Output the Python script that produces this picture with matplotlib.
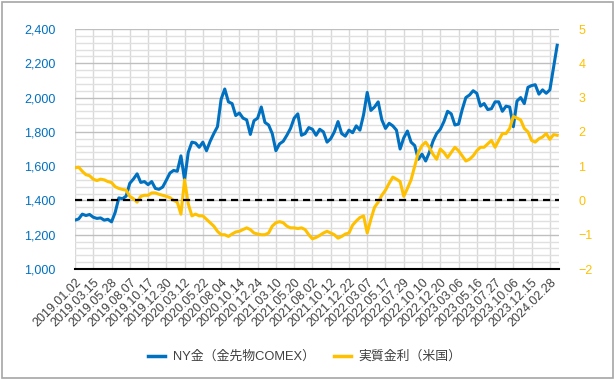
import matplotlib.pyplot as plt
import matplotlib.ticker as mticker
from matplotlib.patches import Rectangle
from matplotlib.lines import Line2D
import numpy as np

# categories: trading days 2019.01.02 - 2024.04, sampled every 10 days
n_days = 1325
step = 10

tick_labels = ['2019.01.02', '2019.03.15', '2019.05.28', '2019.08.07', '2019.10.17',
               '2019.12.30', '2020.03.12', '2020.05.22', '2020.08.04', '2020.10.14',
               '2020.12.24', '2021.03.10', '2021.05.20', '2021.08.02', '2021.10.12',
               '2021.12.22', '2022.03.07', '2022.05.17', '2022.07.29', '2022.10.10',
               '2022.12.20', '2023.03.06', '2023.05.16', '2023.07.27', '2023.10.06',
               '2023.12.15', '2024.02.28']
tick_every = 50

# NY gold (COMEX futures), USD/oz
gold = [1285, 1292, 1320, 1312, 1318, 1302, 1295, 1298, 1285, 1290,
        1275, 1330, 1415, 1410, 1425, 1500, 1525, 1555, 1505, 1510,
        1492, 1510, 1470, 1465, 1478, 1518, 1560, 1575, 1570, 1660,
        1520, 1680, 1740, 1735, 1710, 1740, 1690, 1745, 1790, 1830,
        1990, 2050, 1975, 1965, 1895, 1910, 1880, 1870, 1785, 1865,
        1880, 1945, 1855, 1840, 1790, 1690, 1730, 1745, 1780, 1820,
        1880, 1905, 1780, 1790, 1825, 1815, 1780, 1815, 1800, 1740,
        1760, 1800, 1860, 1790, 1775, 1810, 1795, 1835, 1810, 1900,
        2030, 1925, 1945, 1975, 1870, 1820, 1850, 1835, 1810, 1700,
        1765, 1805, 1740, 1720, 1640, 1670, 1630, 1680, 1745, 1790,
        1815, 1860, 1920, 1905, 1840, 1845, 1930, 2000, 2015, 2040,
        2025, 1950, 1965, 1930, 1935, 1975, 1975, 1920, 1950, 1945,
        1830, 1980, 2000, 1965, 2060, 2070, 2075, 2020, 2045, 2025,
        2045, 2175, 2305]

# US real interest rate, %
real_rate = [0.95, 0.97, 0.85, 0.75, 0.72, 0.62, 0.58, 0.62, 0.60, 0.55,
             0.52, 0.40, 0.35, 0.32, 0.30, 0.12, 0.05, -0.05, 0.12, 0.15,
             0.15, 0.22, 0.22, 0.18, 0.15, 0.12, 0.08, 0.00, -0.05, -0.40,
             0.60, -0.10, -0.45, -0.40, -0.45, -0.45, -0.55, -0.65, -0.75, -0.90,
             -1.00, -1.00, -1.05, -0.98, -0.92, -0.90, -0.85, -0.80, -0.85, -0.95,
             -0.98, -1.00, -1.00, -0.95, -0.75, -0.65, -0.62, -0.65, -0.75, -0.80,
             -0.80, -0.82, -0.80, -0.85, -1.00, -1.12, -1.08, -1.02, -0.95, -0.90,
             -0.95, -1.00, -1.10, -1.05, -0.98, -0.95, -0.72, -0.60, -0.50, -0.45,
             -0.95, -0.55, -0.20, -0.05, 0.15, 0.30, 0.50, 0.68, 0.62, 0.55,
             0.12, 0.35, 0.60, 1.00, 1.40, 1.60, 1.70, 1.55, 1.35, 1.20,
             1.50, 1.40, 1.25, 1.40, 1.55, 1.45, 1.30, 1.15, 1.20, 1.30,
             1.45, 1.55, 1.55, 1.65, 1.75, 1.55, 1.75, 1.95, 1.95, 2.10,
             2.45, 2.40, 2.35, 2.10, 2.00, 1.75, 1.70, 1.80, 1.85, 1.95,
             1.78, 1.92, 1.90]

blue = '#0070C0'
gold_c = '#FFC000'
text_c = '#404040'
font = ['Liberation Sans', 'Noto Sans CJK JP', 'DejaVu Sans']
plt.rcParams['font.family'] = font

fig = plt.figure(figsize=(6.15, 3.8), dpi=100)
ax = fig.add_axes([75 / 615, 111 / 380, 484 / 615, 240 / 380])
ax2 = ax.twinx()

x = np.arange(len(gold)) * step

ax.plot(x, gold, color=blue, lw=2.2, solid_joinstyle='round', zorder=3)
ax2.plot(x, real_rate, color=gold_c, lw=2.2, solid_joinstyle='round', zorder=3)
ax2.axhline(0, color='black', lw=1.6, ls=(0, (3.2, 2.2)), zorder=4)

ax.set_xlim(0, n_days)
ax.set_ylim(1000, 2400)
ax2.set_ylim(-2, 5)

ax.yaxis.set_major_locator(mticker.MultipleLocator(200))
ax.yaxis.set_minor_locator(mticker.MultipleLocator(40))
ax.yaxis.set_major_formatter(mticker.StrMethodFormatter('{x:,.0f}'))
ax2.yaxis.set_major_locator(mticker.MultipleLocator(1))

ax.set_xticks(np.arange(len(tick_labels)) * tick_every)
ax.set_xticklabels(tick_labels, rotation=45, ha='right', rotation_mode='anchor',
                   fontsize=9, color=text_c)

ax.grid(which='major', axis='y', color='#bfbfbf', lw=1)
ax.grid(which='minor', axis='y', color='#e0e0e0', lw=1)
ax.grid(which='major', axis='x', color='#d9d9d9', lw=1)
ax.set_axisbelow(True)

ax.tick_params(axis='y', which='both', length=0, labelcolor=blue, labelsize=9, pad=14)
ax.tick_params(axis='x', length=0, pad=5)
ax2.tick_params(axis='y', length=0, labelcolor=gold_c, labelsize=9, pad=14)

for a in (ax, ax2):
    for s in ('top', 'left', 'right'):
        a.spines[s].set_visible(False)
ax.spines['bottom'].set_color('black')
ax.spines['bottom'].set_linewidth(1.5)
ax2.spines['bottom'].set_visible(False)

handles = [Line2D([], [], color=blue, lw=2.5), Line2D([], [], color=gold_c, lw=2.5)]
fig.legend(handles, ['NY金（金先物COMEX）', '実質金利（米国）'], loc='center',
           bbox_to_anchor=(305 / 615, 1 - 357 / 380), ncol=2, frameon=False,
           fontsize=9.3, labelcolor=text_c, handlelength=1.3, columnspacing=1.5,
           handletextpad=0.6)

fig.patches.append(Rectangle((0.003, 0.004), 0.993, 0.992, transform=fig.transFigure,
                             fill=False, edgecolor='#a6a6a6', lw=1.2))

fig.savefig('out.png', dpi=100)
